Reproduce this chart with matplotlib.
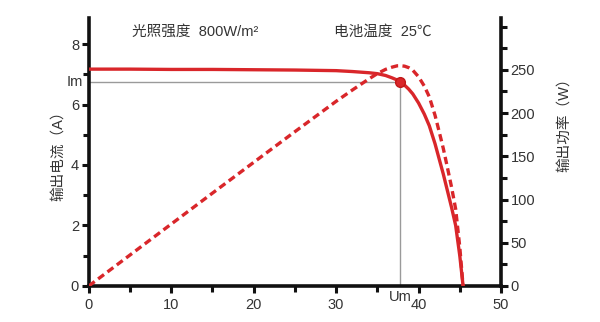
import matplotlib
matplotlib.use("Agg")
import matplotlib.pyplot as plt
from matplotlib.ticker import MultipleLocator

plt.rcParams['font.family'] = ['Liberation Sans', 'Noto Sans CJK SC', 'DejaVu Sans']

# values
voltage = [0, 5, 10, 15, 20, 25, 30, 32, 34, 35, 36, 36.8, 37.4, 37.8, 38.3, 38.8,
           39.3, 40, 40.7, 41.3, 42, 42.5, 43, 43.5, 44, 44.5, 45, 45.4]
current = [7.17, 7.17, 7.16, 7.16, 7.15, 7.14, 7.12, 7.09, 7.05, 7.02, 6.96, 6.88,
           6.81, 6.74, 6.64, 6.51, 6.35, 6.05, 5.68, 5.3, 4.7, 4.2, 3.7, 3.15, 2.6,
           2.0, 1.0, 0]
power = [0, 35.8, 71.6, 107.4, 143, 178.5, 213.6, 226.9, 239.7, 245.7, 250.6, 253.2,
         254.7, 254.8, 254.3, 252.6, 249.6, 242, 231.2, 218.9, 197.4, 178.5, 159.1,
         137, 114.4, 89, 45, 0]
u_m = 37.8
i_m = 6.74

red = '#d9262a'
grey = '#9a9a9a'
txt = '#333333'

fig = plt.figure(figsize=(6, 3.22), dpi=100)
ax = fig.add_axes([0.148, 0.112, 0.687, 0.832])
ax2 = ax.twinx()

# guide lines to the maximum power point
ax.plot([0, u_m], [i_m, i_m], color=grey, lw=1, zorder=1)
ax.plot([u_m, u_m], [0, i_m], color=grey, lw=1, zorder=1)

ax.plot(voltage, current, color=red, lw=2.4, zorder=3)
ax.plot([u_m], [i_m], 'o', color=red, markersize=7, markeredgecolor='#c01818', zorder=4)
ax2.plot(voltage, power, color=red, lw=2.4, ls=(0, (2.2, 1.3)), zorder=3)

ax.set_xlim(0, 50)
ax.set_ylim(0, 8.86)
ax2.set_ylim(0, 310)

ax.xaxis.set_major_locator(MultipleLocator(10))
ax.xaxis.set_minor_locator(MultipleLocator(5))
ax.yaxis.set_major_locator(MultipleLocator(2))
ax.yaxis.set_minor_locator(MultipleLocator(1))
ax2.yaxis.set_major_locator(MultipleLocator(50))
ax2.yaxis.set_minor_locator(MultipleLocator(25))
ax2.set_yticks([0, 50, 100, 150, 200, 250])

for a in (ax, ax2):
    a.spines['top'].set_visible(False)
    for s in a.spines.values():
        s.set_linewidth(2.6)
        s.set_color('#111111')
    a.tick_params(which='major', length=5, width=2.2, color='#111111',
                  labelsize=10.5, labelcolor=txt, pad=2)
    a.tick_params(which='minor', length=4, width=2.2, color='#111111')
ax2.spines['left'].set_visible(False)
ax2.spines['bottom'].set_visible(False)
ax.spines['right'].set_visible(False)
ax.tick_params(axis='x', pad=4)

ax.set_ylabel('输出电流（A）', fontsize=10.5, color=txt, labelpad=4)
ax2.set_ylabel('输出功率（W）', fontsize=10.5, color=txt, rotation=90)
ax2.yaxis.set_label_coords(1.135, 0.615)

ax.text(-0.7, i_m, 'Im', ha='right', va='center', fontsize=10.5, color=txt)
ax.text(u_m, -0.15, 'Um', ha='center', va='top', fontsize=10.5, color=txt)

ax.text(5.2, 8.4, '光照强度  800W/m²', fontsize=10.5, color=txt, va='center')
ax.text(29.8, 8.4, '电池温度  25℃', fontsize=10.5, color=txt, va='center')

fig.savefig('out.png', dpi=100, facecolor='white')
